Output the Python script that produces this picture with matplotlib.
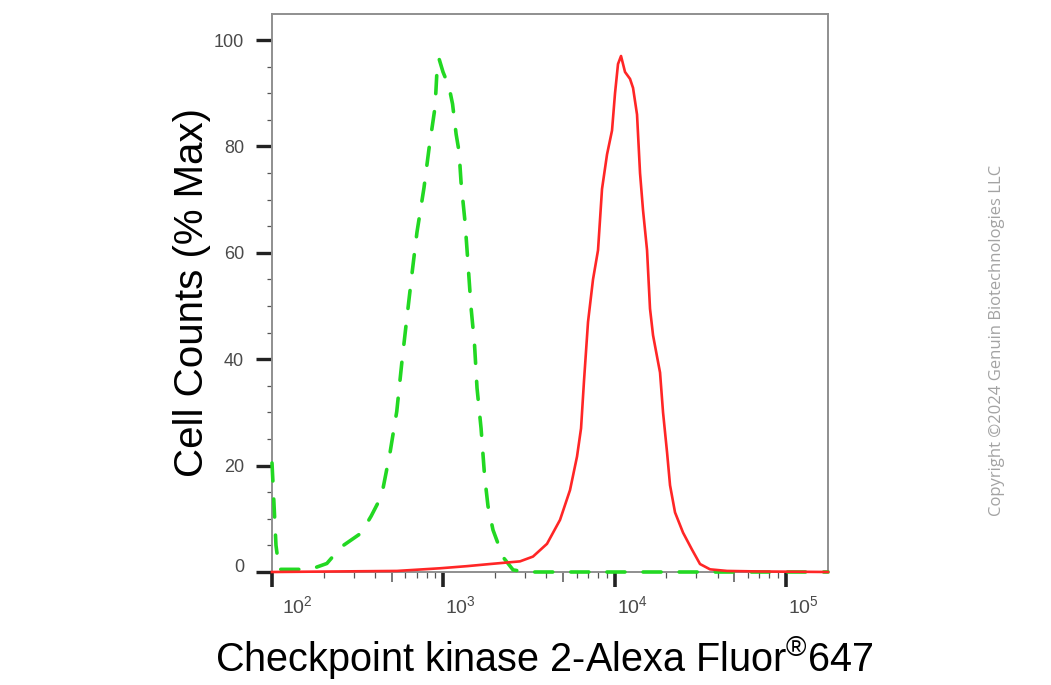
import numpy as np
import matplotlib
matplotlib.use("Agg")
import matplotlib.pyplot as plt
import matplotlib.transforms as mtrans
from matplotlib.ticker import FixedLocator, NullFormatter

plt.rcParams['font.family'] = ['Liberation Sans', 'DejaVu Sans']
plt.rcParams['mathtext.fontset'] = 'custom'
plt.rcParams['mathtext.rm'] = 'Liberation Sans'
plt.rcParams['mathtext.it'] = 'Liberation Sans'
plt.rcParams['mathtext.bf'] = 'Liberation Sans'

# ---- data ----
green_x = [100, 105.5, 110, 127, 150, 178, 209, 253, 331, 379, 436, 489, 535, 574,
           614, 657, 702, 771, 826, 895, 919, 944, 996, 1080, 1132, 1188, 1236,
           1269, 1339, 1388, 1451, 1521, 1573, 1661, 1742, 1823, 1950, 2232, 2553,
           3000, 10000, 30000, 100000, 176000]
green_y = [20.5, 5.0, 0.5, 0.5, 0.5, 0.8, 1.6, 4.7, 7.3, 10.5, 14.3, 22.5, 30.2, 39.7,
           48.0, 56.2, 63.9, 72.2, 79.7, 87.4, 94.4, 96.5, 94.0, 91.2, 88.0, 82.3, 79.0,
           73.3, 65.8, 58.8, 49.8, 42.8, 34.6, 27.0, 18.0, 12.4, 7.9, 2.8, 0.4,
           0.0, 0.0, 0.0, 0.0, 0.0]

red_x = [100, 537, 957, 1375, 1873, 2804, 3338, 4030, 4801, 5490, 6032, 6367, 6628,
         6993, 7479, 8000, 8441, 9029, 9656, 10053, 10466, 10898, 11500, 12300,
         12810, 13513, 14070, 14650, 15460, 16090, 16760, 17680, 18410, 19170,
         20230, 21060, 22520, 25080, 28300, 31510, 36060, 45320, 70620, 176000]
red_y = [0.0, 0.2, 0.7, 1.1, 1.5, 2.0, 2.9, 5.3, 9.8, 15.4, 21.7, 27.0, 36.0,
         47.0, 55.0, 60.5, 72.0, 78.5, 83.0, 90.0, 95.5, 97.0, 94.0, 92.7,
         91.0, 86.0, 75.0, 68.0, 60.5, 49.5, 44.5, 40.5, 37.5, 30.0,
         22.5, 16.3, 11.2, 7.4, 4.2, 1.5, 0.5, 0.2, 0.1, 0.0]

y_ticks = [0, 20, 40, 60, 80, 100]
y_ticklabels = ["0", "20", "40", "60", "80", "100"]
x_ticks = [1e2, 1e3, 1e4, 1e5]
x_ticklabels = [r"$10^{2}$", r"$10^{3}$", r"$10^{4}$", r"$10^{5}$"]

xlabel = "Checkpoint kinase 2-Alexa Fluor$^{®}$647"
ylabel = "Cell Counts (% Max)"
copyright_text = "Copyright \u00a92024 Genuin Biotechnologies LLC"

# ---- figure ----
W, H = 1051, 685
fig = plt.figure(figsize=(W / 100, H / 100), dpi=100)
ax = fig.add_axes([272 / W, 1 - 572 / H, (828 - 272) / W, (572 - 14) / H])

ax.plot(green_x, green_y, color='#22d822', lw=2.6, linestyle=(0, (5.0, 5.0)),
        clip_on=False, zorder=3, dash_capstyle='round', dash_joinstyle='round')
ax.plot(red_x, red_y, color='#ff2626', lw=1.9, clip_on=False, zorder=4,
        solid_joinstyle='round')

ax.set_xscale('log')
ax.set_xlim(100, 176000)
ax.set_ylim(0, 104.9)

for s in ax.spines.values():
    s.set_color('#8f8f8f')
    s.set_linewidth(1.4)

# y ticks
ax.set_yticks(y_ticks)
ax.set_yticklabels(y_ticklabels)
ax.yaxis.set_minor_locator(FixedLocator([v for v in range(0, 105, 5) if v % 20]))
ax.tick_params(axis='y', which='major', direction='out', length=11.5, width=2.4,
               color='#222222', pad=8.5, labelsize=13, labelcolor='#4a4a4a')
ax.tick_params(axis='y', which='minor', direction='out', length=3.8, width=0.9,
               color='#555555')

# x ticks
ax.xaxis.set_major_locator(FixedLocator(x_ticks))
ax.set_xticklabels(x_ticklabels)
minor_x = [m * 10 ** e for e in range(2, 6) for m in (2, 3, 4, 6, 7, 8, 9)]
minor_x = [v for v in minor_x if v <= 176000]
ax.xaxis.set_minor_locator(FixedLocator(minor_x))
ax.xaxis.set_minor_formatter(NullFormatter())
ax.tick_params(axis='x', which='major', direction='out', length=11, width=2.6,
               color='#222222', pad=6, labelsize=14, labelcolor='#4a4a4a')
ax.tick_params(axis='x', which='minor', direction='out', length=4.3, width=0.9,
               color='#555555')

# medium ticks at the 5s
five_x = [5 * 10 ** e for e in range(2, 6) if 5 * 10 ** e <= 176000]
blend = mtrans.blended_transform_factory(ax.transData, ax.transAxes)
ax.vlines(five_x, 0, -10 / 558, transform=blend, colors='#555555', lw=1.1,
          clip_on=False)

# shift tick labels as in the reference
for i, lab in enumerate(ax.get_xticklabels()):
    lab.set_horizontalalignment('left')
    dx = (10 if i == 0 else 2) / 100
    lab.set_transform(lab.get_transform() + mtrans.ScaledTranslation(dx, 0, fig.dpi_scale_trans))
ylabs = ax.get_yticklabels()
ylabs[0].set_transform(ylabs[0].get_transform() + mtrans.ScaledTranslation(0, 7 / 100, fig.dpi_scale_trans))

# axis labels
fig.text(544 / W, 1 - 672 / H, xlabel, ha='center', va='baseline', fontsize=28.5,
         color='black')
fig.text(203 / W, 1 - 293 / H, ylabel, ha='center', va='baseline', rotation=90,
         fontsize=29, color='black', rotation_mode='anchor')

fig.text(997 / W, 1 - 340 / H, copyright_text, ha='center', va='center', rotation=90,
         fontsize=12, color='#a3a3a3', family=['Open Sans', 'DejaVu Sans'])

fig.savefig('out.png', dpi=100)
